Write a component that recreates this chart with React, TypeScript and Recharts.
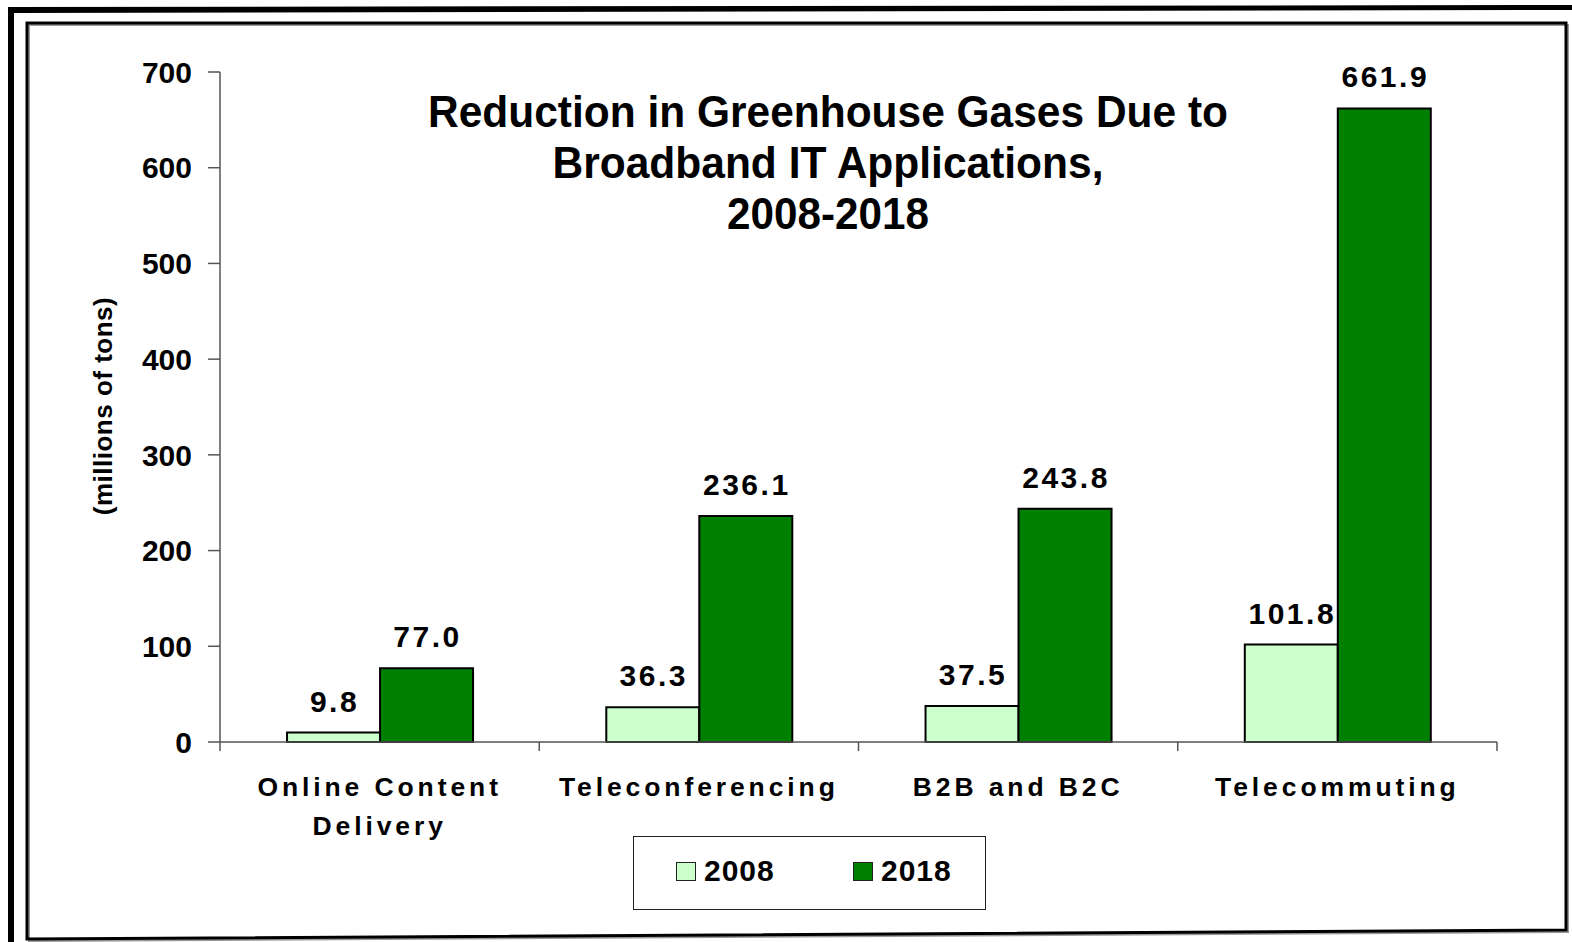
import { BarChart, Bar, XAxis, YAxis, LabelList } from 'recharts';

// categories and the two series (millions of tons)
const categories = ['Online Content\nDelivery', 'Teleconferencing', 'B2B and B2C', 'Telecommuting'];
const series2008 = [9.8, 36.3, 37.5, 101.8];
const series2018 = [77.0, 236.1, 243.8, 661.9];
const yTicks = [0, 100, 200, 300, 400, 500, 600, 700];
const seriesNames = ['2008', '2018'];
const seriesColors = ['#CCFFCC', '#008000'];
const titleLines = ['Reduction in Greenhouse Gases Due to', 'Broadband IT Applications,', '2008-2018'];
const yLabel = '(millions of tons)';

const FONT = '"Liberation Sans", Arial, Helvetica, sans-serif';
const AXIS = '#555';

const rows = categories.map((name, i) => ({ name, v2008: series2008[i], v2018: series2018[i] }));

// category label plus the little tick marks at the band edges (Excel style)
const CategoryTick = (props: any) => {
  const { x, y, payload, width, visibleTicksCount, index } = props;
  const lines = String(payload.value).split('\n');
  const count = visibleTicksCount || categories.length;
  const half = (Number(width) || 1277) / count / 2;
  const edges = index === count - 1 ? [x - half, x + half] : [x - half];
  return (
    <g>
      {edges.map((ex: number, i: number) => (
        <line key={'e' + i} x1={ex} x2={ex} y1={y} y2={y + 9} stroke={AXIS} strokeWidth={1.5} />
      ))}
      {lines.map((ln: string, i: number) => (
        <text
          key={i}
          x={x}
          y={y + 54 + i * 39}
          textAnchor="middle"
          fontFamily={FONT}
          fontWeight="bold"
          fontSize={26.5}
          letterSpacing={3.9}
          fill="#000"
        >
          {ln}
        </text>
      ))}
    </g>
  );
};

const valueLabel = (props: any) => {
  const { x, y, width, value } = props;
  return (
    <text
      x={x + width / 2 + 1}
      y={y - 21}
      textAnchor="middle"
      fontFamily={FONT}
      fontWeight="bold"
      fontSize={30}
      letterSpacing={2.5}
      fill="#000"
    >
      {Number(value).toFixed(1)}
    </text>
  );
};

const App = () => {
  return (
    <div style={{ position: 'absolute', left: 0, top: 0, width: 1572, height: 942, background: '#fff', overflow: 'hidden' }}>
      <BarChart
        width={1572}
        height={942}
        data={rows}
        margin={{ top: 72, right: 75, bottom: 100, left: 0 }}
        barCategoryGap="21%"
        barGap={0}
      >
        <XAxis
          dataKey="name"
          height={100}
          interval={0}
          tickSize={0}
          tickMargin={0}
          tickLine={false}
          axisLine={{ stroke: AXIS, strokeWidth: 1.5 }}
          tick={<CategoryTick />}
        />
        <YAxis
          width={220}
          domain={[0, 700]}
          ticks={yTicks}
          interval={0}
          tickSize={12}
          tickMargin={16}
          axisLine={{ stroke: AXIS, strokeWidth: 1.5 }}
          tickLine={{ stroke: AXIS, strokeWidth: 1.5 }}
          tick={{ fontFamily: FONT, fontWeight: 'bold', fontSize: 30, fill: '#000' }}
        />
        <Bar dataKey="v2008" name={seriesNames[0]} fill={seriesColors[0]} stroke="#000" strokeWidth={2} isAnimationActive={false}>
          <LabelList dataKey="v2008" content={valueLabel} />
        </Bar>
        <Bar dataKey="v2018" name={seriesNames[1]} fill={seriesColors[1]} stroke="#000" strokeWidth={2} isAnimationActive={false}>
          <LabelList dataKey="v2018" content={valueLabel} />
        </Bar>
      </BarChart>

      <svg
        width={1572}
        height={942}
        style={{ position: 'absolute', left: 0, top: 0, pointerEvents: 'none' }}
      >
        {/* outer heavy frame, only top and left are visible */}
        <polygon points="8,7 1572,5 1572,10 14,13 14,942 8,942" fill="#000" />
        {/* inner frame with a light shadow */}
        <polygon points="29,25 1568,25 1568,932 29,941" fill="none" stroke="#999" strokeWidth={2} />
        <polygon points="27,23 1566,23 1566,930 27,939" fill="none" stroke="#000" strokeWidth={3} />

        {titleLines.map((t, i) => (
          <text
            key={t}
            x={828}
            y={127 + i * 51}
            textAnchor="middle"
            fontFamily={FONT}
            fontWeight="bold"
            fontSize={44}
            textLength={[800, 551, 202][i]}
            lengthAdjust="spacingAndGlyphs"
            fill="#000"
          >
            {t}
          </text>
        ))}

        <text
          transform="translate(112,406) rotate(-90)"
          textAnchor="middle"
          fontFamily={FONT}
          fontWeight="bold"
          fontSize={26}
          letterSpacing={0.5}
          fill="#000"
        >
          {yLabel}
        </text>
      </svg>

      <div
        style={{
          position: 'absolute',
          left: 633,
          top: 836,
          width: 351,
          height: 72,
          border: '1.5px solid #222',
          background: '#fff',
        }}
      >
        {seriesNames.map((n, i) => (
          <div
            key={n}
            style={{
              position: 'absolute',
              left: [42, 219][i],
              top: 17,
              display: 'flex',
              alignItems: 'center',
              fontFamily: FONT,
              fontWeight: 'bold',
              fontSize: 30,
              letterSpacing: 1,
              color: '#000',
            }}
          >
            <span
              style={{
                display: 'inline-block',
                width: 18,
                height: 17,
                background: seriesColors[i],
                border: '1.5px solid #222',
                marginRight: 8,
              }}
            />
            {n}
          </div>
        ))}
      </div>
    </div>
  );
};

export default App;
